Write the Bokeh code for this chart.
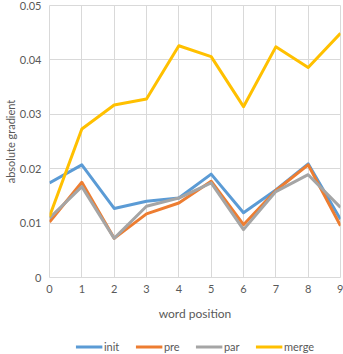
from bokeh.plotting import figure
from bokeh.layouts import column
from bokeh.models import Range1d, FixedTicker, CustomJSTickFormatter, Legend, LegendItem
from bokeh.embed import file_html
from bokeh.resources import INLINE

positions = [0, 1, 2, 3, 4, 5, 6, 7, 8, 9]
init = [0.0174, 0.0207, 0.0127, 0.0140, 0.0146, 0.0190, 0.0119, 0.0161, 0.0209, 0.0107]
pre = [0.0102, 0.0175, 0.0072, 0.0117, 0.0137, 0.0177, 0.0097, 0.0160, 0.0207, 0.0095]
par = [0.0109, 0.0167, 0.0072, 0.0131, 0.0146, 0.0174, 0.0088, 0.0158, 0.0189, 0.0129]
merge = [0.0112, 0.0273, 0.0317, 0.0328, 0.0426, 0.0406, 0.0314, 0.0424, 0.0386, 0.0449]
series_names = ["init", "pre", "par", "merge"]
y_ticks = [0, 0.01, 0.02, 0.03, 0.04, 0.05]

colors = ["#5B9BD5", "#ED7D31", "#A5A5A5", "#FFC000"]
FONT = "Lato"
TXT = "#595959"
GRID = "#D9D9D9"

p = figure(width=343, height=338, output_backend="svg", toolbar_location=None,
           x_range=Range1d(0, 9), y_range=Range1d(0, 0.05),
           min_border_left=49, min_border_right=3, min_border_top=5, min_border_bottom=61)
p.background_fill_color = "white"
p.border_fill_color = "white"
p.outline_line_color = GRID

p.xaxis.ticker = FixedTicker(ticks=positions)
p.yaxis.ticker = FixedTicker(ticks=y_ticks)
p.yaxis.formatter = CustomJSTickFormatter(code="return tick == 0 ? '0' : tick.toFixed(2);")
p.xgrid.ticker = FixedTicker(ticks=positions)
p.ygrid.ticker = FixedTicker(ticks=y_ticks)
p.grid.grid_line_color = GRID
p.grid.grid_line_width = 1

for ax in (p.xaxis[0], p.yaxis[0]):
    ax.axis_line_color = None
    ax.major_tick_line_color = None
    ax.minor_tick_line_color = None
    ax.major_tick_out = 0
    ax.major_label_text_font = FONT
    ax.major_label_text_font_size = "11px"
    ax.major_label_text_color = TXT
    ax.axis_label_text_font = FONT
    ax.axis_label_text_font_size = "12px"
    ax.axis_label_text_color = TXT
    ax.axis_label_text_font_style = "normal"

p.xaxis.axis_label = "word position"
p.yaxis.axis_label = "absolute gradient"
p.yaxis.axis_label_text_font_size = "11px"
p.xaxis.major_label_standoff = 7
p.xaxis.axis_label_standoff = 10
p.yaxis.major_label_standoff = 8
p.yaxis.axis_label_standoff = 0

data = [init, pre, par, merge]
for name, vals, c in zip(series_names, data, colors):
    p.line(positions, vals, line_color=c, line_width=3, line_join="round")

# legend strip below the chart
lg = figure(width=343, height=16, output_backend="svg", toolbar_location=None,
            x_range=Range1d(0, 9), y_range=Range1d(1, 2),
            x_axis_type=None, y_axis_type=None,
            min_border_left=0, min_border_right=0, min_border_top=0, min_border_bottom=0)
lg.outline_line_color = None
lg.grid.visible = False
items = []
for name, vals, c in zip(series_names, data, colors):
    r = lg.line(positions, vals, line_color=c, line_width=3)
    items.append(LegendItem(label=name, renderers=[r]))
legend = Legend(items=items, orientation="horizontal", location="center",
                label_text_font=FONT, label_text_font_size="11px", label_text_color=TXT,
                glyph_width=27, glyph_height=12, spacing=11, label_standoff=2,
                border_line_color=None, background_fill_alpha=0, padding=0, margin=0)
lg.add_layout(legend, "center")

layout = column(p, lg, spacing=0)
open("out.html", "w").write(file_html(layout, INLINE))
